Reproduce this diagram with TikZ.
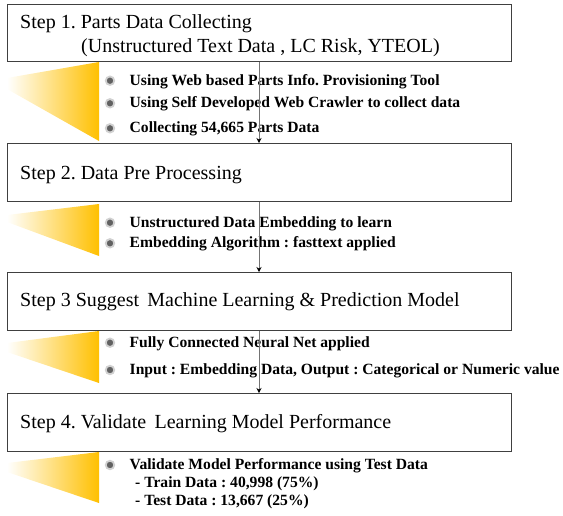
\documentclass[tikz,border=0pt]{standalone}
\usepackage{fontspec}
\setmainfont{Liberation Serif}
\usetikzlibrary{arrows.meta}
\definecolor{wedge}{HTML}{FFC000}
\definecolor{boxline}{HTML}{404040}
\frenchspacing
\begin{document}
\begin{tikzpicture}[x=1pt,y=-1pt,
  stepbox/.style={draw=boxline, line width=1.1pt, fill=white, minimum width=504pt, minimum height=57.5pt, anchor=north west, inner sep=0pt},
  title/.style={anchor=base west, inner sep=0pt, font=\fontsize{20}{24}\selectfont},
  item/.style={anchor=base west, inner sep=0pt, font=\bfseries\fontsize{15.6}{18}\selectfont},
  bulletdot/.style={circle, fill=black!62, draw=black!18, line width=1.8pt, minimum size=8.5pt, inner sep=0pt},
  arr/.style={draw=black!55, line width=0.9pt, -{Stealth[length=5pt,width=5pt,color=black]}},
  wedgefill/.style={left color=white, middle color=wedge!50, right color=wedge}
]
\useasboundingbox (0,0) rectangle (563,515);

% step boxes
\node[stepbox] (s1) at (7,3.5) {};
\node[stepbox] (s2) at (7,143) {};
\node[stepbox] (s3) at (7,272) {};
\node[stepbox] (s4) at (7,393) {};

% titles
\node[title] (t1a) at (20,28) {Step 1. Parts Data Collecting};
\node[title] (t1b) at (81,52.5) {(Unstructured Text Data , LC Risk, YTEOL)};
\node[title] (t2) at (20,179.5) {Step 2. Data Pre Processing};
\node[title] (t3) at (20,306) {Step 3 Suggest\, Machine Learning \& Prediction Model};
\node[title] (t4) at (20,428.5) {Step 4. Validate\, Learning Model Performance};

% wedges
\shade[wedgefill] (7,78) -- (99,62) -- (99,141) -- (7,89) -- cycle;
\shade[wedgefill] (7,215) -- (99,204) -- (99,256) -- (7,222) -- cycle;
\shade[wedgefill] (7,343) -- (99,331) -- (99,383) -- (7,352) -- cycle;
\shade[wedgefill] (7,463) -- (99,452) -- (99,503) -- (7,472) -- cycle;

% group 1
\node[bulletdot] (b11) at (110,80.7) {};
\node[bulletdot] (b12) at (110,103.3) {};
\node[bulletdot] (b13) at (110,128.3) {};
\node[item] (i11) at (129.5,85) {Using Web based Parts Info. Provisioning Tool};
\node[item] (i12) at (129.5,107.6) {Using Self Developed Web Crawler to collect data};
\node[item] (i13) at (129.5,132.6) {Collecting 54,665 Parts Data};

% group 2
\node[bulletdot] (b21) at (110,222.7) {};
\node[bulletdot] (b22) at (110,243.3) {};
\node[item] (i21) at (129.5,227) {Unstructured Data Embedding to learn};
\node[item] (i22) at (129.5,247.6) {Embedding Algorithm : fasttext applied};

% group 3
\node[bulletdot] (b31) at (110,342.7) {};
\node[bulletdot] (b32) at (110,370) {};
\node[item] (i31) at (129.5,347) {Fully Connected Neural Net applied};
\node[item] (i32) at (129.5,374.3) {Input : Embedding Data, Output : Categorical or Numeric value};

% group 4
\node[bulletdot] (b41) at (110,465) {};
\node[item] (i41) at (129.5,469) {Validate Model Performance using Test Data};
\node[item] (i42) at (135,487) {- Train Data : 40,998 (75\%)};
\node[item] (i43) at (135,505.5) {- Test Data : 13,667 (25\%)};

% connectors
\coordinate (ax) at (259,0);
\draw[arr] (s1.south -| ax) -- (s2.north -| ax);
\draw[arr] (s2.south -| ax) -- (s3.north -| ax);
\draw[arr] (s3.south -| ax) -- (s4.north -| ax);
\end{tikzpicture}
\end{document}
